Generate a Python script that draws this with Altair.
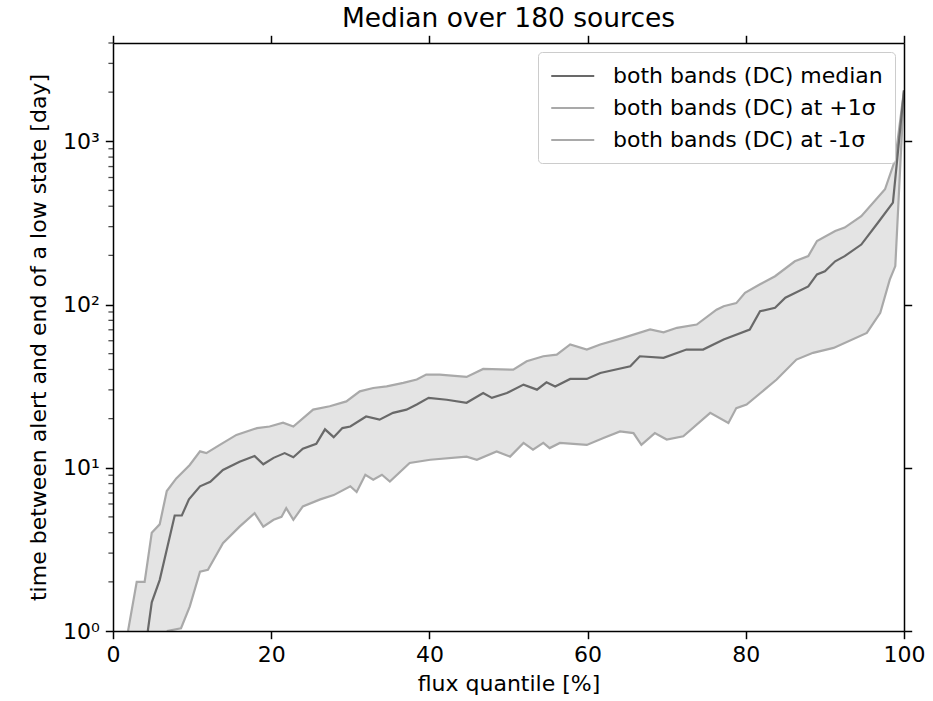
import altair as alt
import pandas as pd

# ---- data ----
med_q = [4.4, 4.9, 5.9, 7.8, 8.7, 9.6, 11.0, 12.3, 13.9, 16.0, 17.9, 19.0, 20.3, 21.7, 22.8,
         24.0, 25.7, 26.8, 27.9, 29.0, 30.0, 32.0, 33.7, 35.4, 37.1, 38.4, 39.9, 42.2, 44.7,
         46.8, 47.9, 49.8, 51.9, 53.6, 54.8, 55.9, 57.8, 59.9, 61.6, 65.4, 66.6, 69.6, 72.5,
         74.6, 77.2, 80.5, 81.8, 83.7, 85.0, 87.9, 89.0, 90.0, 91.3, 92.5, 94.6, 96.7, 98.6, 100.0]
med_v = [1.0, 1.5, 2.05, 5.1, 5.1, 6.4, 7.7, 8.2, 9.7, 10.9, 11.8, 10.5, 11.5, 12.3, 11.6,
         13.1, 14.0, 17.2, 15.4, 17.5, 17.9, 20.6, 19.7, 21.7, 22.7, 24.4, 26.8, 26.1, 25.0,
         28.7, 26.8, 28.7, 32.3, 30.1, 33.4, 31.5, 35.0, 35.0, 38.1, 41.8, 48.2, 47.1, 53.0,
         53.0, 61.0, 70.3, 91.0, 95.5, 110, 129, 153, 160, 184, 198, 233, 317, 421, 2050]

up_q = [1.9, 3.0, 4.0, 4.9, 5.9, 6.8, 8.0, 9.7, 11.0, 11.8, 13.5, 15.6, 18.2, 19.8, 21.5, 22.8,
        25.3, 27.4, 29.5, 31.2, 32.9, 34.6, 36.7, 38.4, 39.6, 41.3, 44.7, 46.8, 50.6, 52.3,
        54.4, 56.1, 57.8, 59.9, 61.6, 64.5, 67.9, 69.6, 71.3, 73.8, 76.3, 77.2, 78.8, 79.9,
        81.8, 83.7, 86.2, 87.9, 89.0, 91.3, 92.5, 94.6, 97.6, 98.9, 100.0]
up_v = [1.0, 2.0, 2.0, 4.0, 4.5, 7.2, 8.6, 10.4, 12.6, 12.3, 13.8, 15.9, 17.5, 17.9, 18.9, 17.9,
        22.7, 23.8, 25.5, 29.4, 30.8, 31.5, 33.1, 34.7, 37.2, 37.2, 36.0, 40.3, 39.9, 44.9,
        48.2, 49.3, 56.9, 53.0, 56.9, 62.5, 70.3, 67.6, 72.0, 75.4, 93.0, 97.7, 102, 118,
        133, 149, 184, 198, 245, 282, 296, 348, 508, 776, 2050]

lo_q = [6.8, 8.6, 9.7, 11.0, 12.0, 13.9, 16.0, 17.9, 19.0, 20.3, 21.3, 21.9, 22.8, 24.0, 26.2,
        27.9, 30.0, 30.8, 31.9, 32.9, 34.0, 35.0, 37.5, 40.1, 44.7, 46.0, 48.5, 50.2, 51.9,
        53.1, 54.4, 55.2, 56.5, 59.9, 62.0, 64.1, 65.8, 66.8, 68.5, 70.0, 72.1, 75.5, 77.8,
        78.8, 80.1, 83.9, 86.4, 88.5, 91.1, 95.3, 97.0, 98.2, 98.9, 100.0]
lo_v = [1.0, 1.04, 1.41, 2.31, 2.37, 3.45, 4.36, 5.27, 4.36, 4.8, 5.0, 5.66, 4.8, 5.8, 6.4,
        6.8, 7.7, 7.1, 9.06, 8.44, 9.06, 8.24, 10.7, 11.2, 11.7, 11.2, 12.6, 11.7, 14.2,
        12.9, 14.2, 13.2, 14.2, 13.8, 15.2, 16.7, 16.3, 13.8, 16.3, 14.9, 15.6, 21.7, 18.8,
        23.2, 24.4, 34.7, 46.0, 50.6, 54.2, 67.0, 89.0, 142, 172, 2050]

series_names = ["both bands (DC) median", "both bands (DC) at +1σ", "both bands (DC) at -1σ"]
series_colors = ["#696969", "#a9a9a9", "#a9a9a9"]

x_ticks = [0, 20, 40, 60, 80, 100]
y_major = [1, 10, 100, 1000]
y_minor = [m * d for d in (1, 10, 100, 1000) for m in range(2, 10) if m * d <= 4000]

FONT = "DejaVu Sans"
W, H = 791, 588

med_df = pd.DataFrame({"q": med_q, "v": med_v, "series": series_names[0]})
up_df = pd.DataFrame({"q": up_q, "v": up_v, "series": series_names[1]})
lo_df = pd.DataFrame({"q": lo_q, "v": lo_v, "series": series_names[2]})
lines_df = pd.concat([up_df, lo_df, med_df], ignore_index=True)
minor_df = pd.DataFrame({"v": [float(v) for v in y_minor]})

common = dict(domainColor="black", domainWidth=1.5, tickColor="black", tickWidth=1.5,
              grid=False, labelFont=FONT, labelFontSize=22, labelColor="black",
              titleFont=FONT, titleFontSize=22, titleColor="black",
              titleFontWeight="normal", zindex=1)

x_bottom = alt.Axis(orient="bottom", values=x_ticks, tickSize=7.7, labelPadding=6,
                    format="d", labelFlush=False, title="flux quantile [%]",
                    titlePadding=8, **common)
x_top = alt.Axis(orient="top", values=x_ticks, tickSize=7.7, labels=False, title=None,
                 **common)
y_left = alt.Axis(
    orient="left", values=y_major, tickSize=7.7,
    labelExpr=("datum.value == 1 ? '10⁰' : datum.value == 10 ? '10¹' : "
               "datum.value == 100 ? '10²' : datum.value == 1000 ? '10³' : ''"),
    labelOverlap=False, labelPadding=6,
    title="time between alert and end of a low state [day]", titlePadding=12, **common)
y_right = alt.Axis(orient="right", values=y_major, tickSize=7.7, labels=False, title=None,
                   **common)

xs = alt.Scale(domain=[0, 100], nice=False, zero=False)
ys = alt.Scale(type="log", domain=[1, 4000], nice=False)

grey = alt.Chart(up_df).mark_area(color="#e4e4e4", clip=True).encode(
    x=alt.X("q:Q", scale=xs, axis=x_bottom),
    y=alt.Y("v:Q", scale=ys, axis=y_left),
    y2=alt.datum(1.0),
)
white = alt.Chart(lo_df).mark_area(color="white", clip=True).encode(
    x=alt.X("q:Q", axis=x_top),
    y=alt.Y("v:Q", axis=y_right),
    y2=alt.datum(1.0),
)
# minor log ticks on the left axis, just outside the frame
minor_layer = alt.Chart(minor_df).mark_tick(
    orient="horizontal", color="black", thickness=1.3, size=4.6, xOffset=-2.3
).encode(
    y=alt.Y("v:Q", axis=None),
    x=alt.value(0),
)
lines = alt.Chart(lines_df).mark_line(strokeWidth=2.2, clip=True).encode(
    x=alt.X("q:Q", axis=None),
    y=alt.Y("v:Q", axis=None),
    color=alt.Color(
        "series:N",
        scale=alt.Scale(domain=series_names, range=series_colors),
        legend=alt.Legend(
            orient="top-right", offset=9, title=None,
            fillColor="white", strokeColor="#cccccc", cornerRadius=4, padding=12,
            labelFont=FONT, labelFontSize=22, labelColor="black", labelLimit=500,
            labelOffset=39, rowPadding=9, symbolType="M-1,0H3", symbolSize=462,
            symbolStrokeWidth=2.2, symbolFillColor="transparent",
        ),
    ),
)

chart = alt.layer(grey, white, lines, minor_layer).resolve_axis(
    x="independent", y="independent"
).properties(
    width=W, height=H,
    title=alt.Title("Median over 180 sources", font=FONT, fontSize=26.5,
                    fontWeight="normal", color="black", anchor="middle", offset=2),
    padding={"left": 113, "top": 43, "right": 29, "bottom": 70},
    autosize=alt.AutoSizeParams(type="none"),
).configure_view(stroke=None)

chart.save("out.html", embed_options={"renderer": "svg", "actions": False})
